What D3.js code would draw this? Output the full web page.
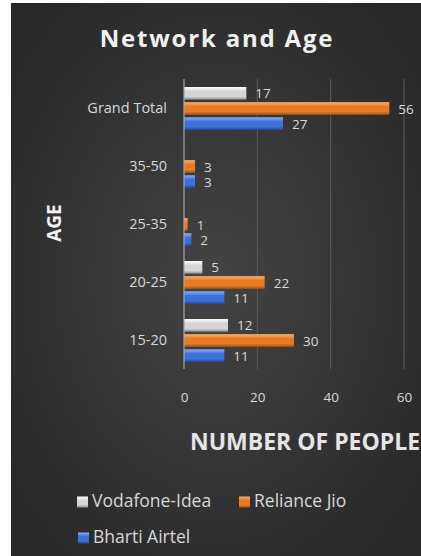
<!DOCTYPE html>
<html><head><meta charset="utf-8">
<script src="https://cdn.jsdelivr.net/npm/d3@7"></script>
<style>
html,body{margin:0;padding:0;background:#fff;}
svg{display:block;}
</style></head>
<body>
<svg id="chart" width="421" height="556"></svg>
<script>
const categories = ["15-20", "20-25", "25-35", "35-50", "Grand Total"];
const seriesNames = ["Vodafone-Idea", "Reliance Jio", "Bharti Airtel"];
const vodafoneIdea = [12, 5, null, null, 17];
const relianceJio = [30, 22, 1, 3, 56];
const bhartiAirtel = [11, 11, 2, 3, 27];
const xTicks = [0, 20, 40, 60];

const seriesValues = [vodafoneIdea, relianceJio, bhartiAirtel];
const colors = {
  "Vodafone-Idea": ["#ffffff", "#d6d6d6", "#8c8c8c"],
  "Reliance Jio": ["#f7b070", "#e87a24", "#a8520f"],
  "Bharti Airtel": ["#8ab0f2", "#3d70d8", "#23449a"]
};
const FONT = "'Open Sans', sans-serif";

const svg = d3.select("#chart");
const defs = svg.append("defs");

// background
const rg = defs.append("radialGradient").attr("id","bg").attr("cx","50%").attr("cy","50%").attr("r","65%");
rg.append("stop").attr("offset","0%").attr("stop-color","#434343");
rg.append("stop").attr("offset","100%").attr("stop-color","#272727");
svg.append("rect").attr("x",11).attr("y",3).attr("width",410).attr("height",553).attr("fill","url(#bg)");

seriesNames.forEach((s,i)=>{
  const g = defs.append("linearGradient").attr("id","g"+i).attr("x1",0).attr("y1",0).attr("x2",0).attr("y2",1);
  const c = colors[s];
  g.append("stop").attr("offset","0%").attr("stop-color",c[0]);
  g.append("stop").attr("offset","35%").attr("stop-color",c[1]);
  g.append("stop").attr("offset","75%").attr("stop-color",c[1]);
  g.append("stop").attr("offset","100%").attr("stop-color",c[2]);
});

const x = d3.scaleLinear().domain([0,60]).range([184,404]);
const y = d3.scaleBand().domain(categories.slice().reverse()).range([79,369]);
const yInner = d3.scaleBand().domain(seriesNames).range([8, y.bandwidth()-7]).paddingInner(0.16);

// gridlines
svg.append("g").selectAll("line").data(xTicks.filter(t=>t>0)).join("line")
  .attr("x1",d=>x(d)).attr("x2",d=>x(d)).attr("y1",79).attr("y2",369)
  .attr("stroke","#5c5c5c").attr("stroke-width",1);

// bars
const labelColor = "#d9d9d9";
seriesNames.forEach((s,i)=>{
  const data = categories.map((c,j)=>({c, v: seriesValues[i][j]})).filter(d=>d.v!==null);
  const g = svg.append("g");
  g.selectAll("rect").data(data).join("rect")
    .attr("x", x(0))
    .attr("y", d=>y(d.c)+yInner(s))
    .attr("width", d=>x(d.v)-x(0))
    .attr("height", yInner.bandwidth())
    .attr("fill","url(#g"+i+")");
  g.selectAll("text").data(data).join("text")
    .attr("x", d=>x(d.v)+9)
    .attr("y", d=>y(d.c)+yInner(s)+yInner.bandwidth()/2+1.5)
    .attr("dominant-baseline","middle")
    .attr("font-family",FONT).attr("font-size",13.5)
    .attr("fill",labelColor)
    .text(d=>d.v);
});

// zero axis line
svg.append("line").attr("x1",x(0)).attr("x2",x(0)).attr("y1",79).attr("y2",369)
  .attr("stroke","#a6a6a6").attr("stroke-width",1.2);

// y axis labels
const yAxis = svg.append("g").attr("transform",`translate(${x(0)},0)`)
  .call(d3.axisLeft(y).tickSize(0).tickPadding(17));
yAxis.select(".domain").remove();
yAxis.selectAll("text").attr("font-family",FONT).attr("font-size",14.5).attr("fill",labelColor);

// x axis
const xAxis = svg.append("g").attr("transform","translate(0,388)")
  .call(d3.axisBottom(x).tickValues(xTicks).tickSize(0).tickPadding(4));
xAxis.select(".domain").remove();
xAxis.selectAll("text").attr("font-family",FONT).attr("font-size",13.5).attr("fill",labelColor);

// title
svg.append("text").attr("x",217).attr("y",47).attr("text-anchor","middle")
  .attr("font-family",FONT).attr("font-weight",700).attr("font-size",24)
  .attr("letter-spacing",1.8).attr("fill","#f2f2f2").text("Network and Age");

// axis titles
svg.append("text").attr("transform","translate(61,223) rotate(-90)").attr("text-anchor","middle")
  .attr("font-family",FONT).attr("font-weight",700).attr("font-size",19)
  .attr("fill","#f2f2f2").text("AGE");
svg.append("text").attr("x",190).attr("y",450)
  .attr("font-family",FONT).attr("font-weight",700).attr("font-size",23)
  .attr("fill","#e6e6e6").text("NUMBER OF PEOPLE");

// legend
const legendItems = [
  {name:"Vodafone-Idea", x:77, y:502},
  {name:"Reliance Jio", x:239, y:502},
  {name:"Bharti Airtel", x:78, y:538}
];
const lg = svg.append("g");
legendItems.forEach(it=>{
  const i = seriesNames.indexOf(it.name);
  lg.append("rect").attr("x",it.x).attr("y",it.y-5.5).attr("width",11).attr("height",11).attr("fill","url(#g"+i+")");
  lg.append("text").attr("x",it.x+15).attr("y",it.y).attr("dominant-baseline","middle")
    .attr("font-family",FONT).attr("font-size",17.5).attr("fill",labelColor).text(it.name);
});
</script>
</body></html>
